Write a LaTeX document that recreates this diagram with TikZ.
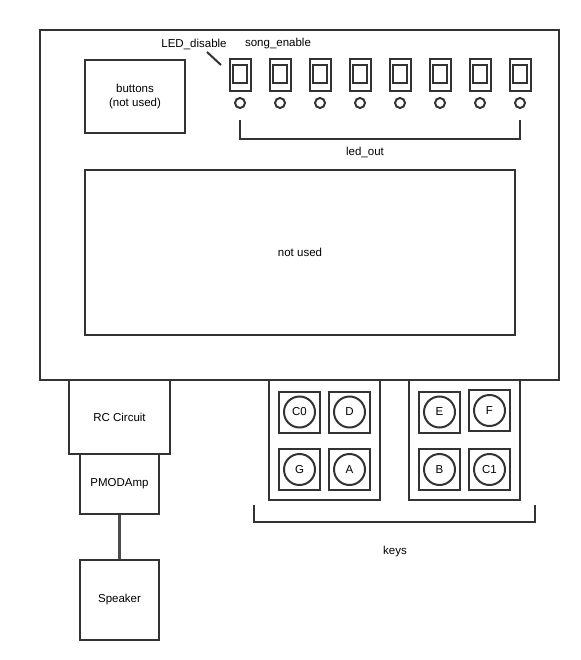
\documentclass[tikz,border=0pt]{standalone}
\usepackage{fontspec}
\setmainfont{Liberation Sans}
\begin{document}
\begin{tikzpicture}[x=1pt,y=-1pt,
  line width=2pt, color=black!80,
  box/.style={draw=black!80, line width=2pt, text=black, font=\fontsize{11.5}{14}\selectfont, align=center},
  lbl/.style={font=\fontsize{11.5}{14}\selectfont, text=black, inner sep=0pt},
  sw/.style={draw=black!80, line width=2pt, minimum width=21pt, minimum height=32pt, inner sep=0pt},
  swin/.style={draw=black!80, line width=2pt, minimum width=14pt, minimum height=18pt, inner sep=0pt},
  led/.style={draw=black!80, line width=2pt, circle, minimum size=10pt, inner sep=0pt},
  keysq/.style={draw=black!80, line width=2pt, minimum size=41pt, inner sep=0pt},
  keyc/.style={draw=black!80, line width=2pt, circle, minimum size=31pt, inner sep=0pt, text=black, font=\fontsize{11.5}{14}\selectfont}]
\useasboundingbox (0,0) rectangle (580,660);
% main board
\node[box, minimum width=519pt, minimum height=350pt, inner sep=0pt] (board) at (299.5,205) {};
\node[box, minimum width=100pt, minimum height=73pt, inner sep=0pt] (buttons) at (135,96.5) {buttons\\(not used)};
\node[box, minimum width=430pt, minimum height=165pt, inner sep=0pt] (notused) at (300,252.5) {not used};
% switches and leds
\foreach \i in {1,...,8} {
  \pgfmathsetmacro{\xx}{200+40*\i}
  \node[sw] (sw\i) at (\xx,75) {};
  \node[swin] (swi\i) at (\xx,74) {};
  \node[led] (led\i) at (\xx,103) {};
}
\node[lbl] (ledlbl) at (194,44) {LED\_disable};
\node[lbl] (songlbl) at (278,44) {song\_enable};
\coordinate (ld1) at (207,52);
\coordinate (ld2) at (221,65);
\draw (ld1) -- (ld2);
% led_out bracket
\coordinate (b1) at (240,120);
\coordinate (b2) at (240,139);
\coordinate (b3) at (520,139);
\coordinate (b4) at (520,120);
\draw (b1) -- (b2) -- (b3) -- (b4);
\node[lbl] (ledout) at (365,152) {led\_out};
% audio chain
\node[box, minimum width=101pt, minimum height=74pt, inner sep=0pt] (rc) at (119.5,417) {RC Circuit};
\node[box, minimum width=79pt, minimum height=60pt, inner sep=0pt] (pmod) at (119.5,484) {PMODAmp};
\node[box, minimum width=79pt, minimum height=80pt, inner sep=0pt] (spk) at (119.5,600) {Speaker};
\draw[line width=2.5pt, black!70] (pmod.south) -- (spk.north);
% key boards
\node[box, minimum width=111pt, minimum height=120pt, inner sep=0pt] (kl) at (324.5,440) {};
\node[box, minimum width=111pt, minimum height=120pt, inner sep=0pt] (kr) at (464.5,440) {};
\foreach \n/\t/\x/\y in {kc0/C0/299.5/412, kd/D/349.5/412, kg/G/299.5/469.5, ka/A/349.5/469.5,
                        ke/E/439.5/412, kf/F/489.5/410.5, kb/B/439.5/469.5, kc1/C1/489.5/469.5} {
  \node[keysq] (\n sq) at (\x,\y) {};
  \node[keyc] (\n) at (\x,\y) {\t};
}
% keys bracket
\coordinate (k1) at (254,505);
\coordinate (k2) at (254,522);
\coordinate (k3) at (535,522);
\coordinate (k4) at (535,505);
\draw (k1) -- (k2) -- (k3) -- (k4);
\node[lbl] (keyslbl) at (395,552) {keys};
\end{tikzpicture}
\end{document}
